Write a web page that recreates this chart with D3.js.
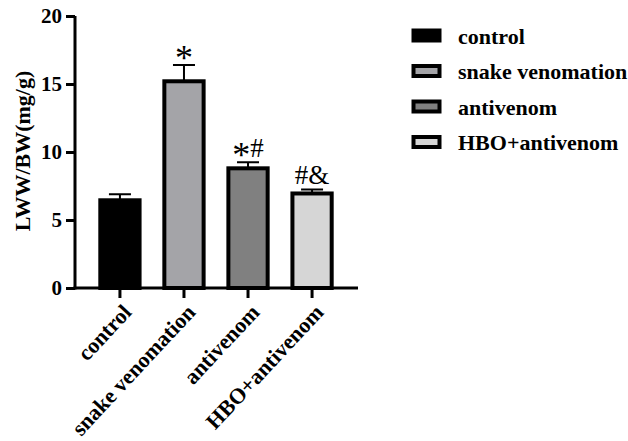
<!DOCTYPE html>
<html>
<head>
<meta charset="utf-8">
<script src="https://cdn.jsdelivr.net/npm/d3@7"></script>
<style>
  body { margin: 0; background: #fff; }
  text { font-family: "Liberation Serif", "Times New Roman", serif; font-weight: bold; }
</style>
</head>
<body>
<svg id="chart" width="628" height="441"></svg>
<script>
// data
let groups = ["control", "snake venomation", "antivenom", "HBO+antivenom"];
let means = [6.45, 15.2, 8.8, 6.95];
let errs = [0.45, 1.2, 0.45, 0.3];
let stars = ["", "*", "*", ""];
let signs = ["", "", "#", "#&"];
let fills = ["#000000", "#a4a4a8", "#808080", "#d6d6d6"];
let yTicks = [0, 5, 10, 15, 20];

let margin_x = 75, top_y = 16, bottom_y = 288;

let svg = d3.select("#chart");

let x = d3.scaleBand()
    .domain(groups)
    .range([86, 346])
    .paddingInner(0.34)
    .paddingOuter(0.2);
let y = d3.scaleLinear().domain([0, 20]).range([bottom_y, top_y]);

// y axis
let gy = svg.append("g")
    .attr("transform", "translate(" + margin_x + ",0)")
    .call(d3.axisLeft(y).tickValues(yTicks).tickSize(9).tickPadding(4));
gy.select(".domain").attr("stroke-width", 3).attr("d", "M0," + (bottom_y + 1.5) + "V" + top_y);
gy.selectAll(".tick line").attr("stroke-width", 3);
gy.selectAll(".tick text").style("font-size", "21px").attr("fill", "#000");

// x axis
let gx = svg.append("g")
    .attr("transform", "translate(0," + bottom_y + ")")
    .call(d3.axisBottom(x).tickSize(10).tickSizeOuter(0));
gx.select(".domain").attr("stroke-width", 3).attr("d", "M" + (margin_x - 1.5) + ",0H358");
gx.selectAll(".tick line").attr("stroke-width", 3).attr("y1", 1);
gx.selectAll(".tick text")
    .style("font-size", "22px")
    .attr("fill", "#000")
    .attr("text-anchor", "end")
    .attr("dy", "0.35em")
    .attr("transform", "translate(7,20) rotate(-47)")
    .attr("x", 0).attr("y", 0);

// bars
let bw = x.bandwidth();
svg.selectAll(".bar").data(groups).join("rect")
    .attr("class", "bar")
    .attr("x", d => x(d) + 1.5)
    .attr("y", (d, i) => y(means[i]))
    .attr("width", bw - 3)
    .attr("height", (d, i) => y(0) - y(means[i]))
    .attr("fill", (d, i) => fills[i])
    .attr("stroke", "#000")
    .attr("stroke-width", 4);

// error bars (upper only)
svg.selectAll(".err").data(groups).join("path")
    .attr("class", "err")
    .attr("d", (d, i) => {
        let cx = x(d) + bw / 2;
        let yt = y(means[i] + errs[i]);
        return "M" + cx + "," + y(means[i]) + "V" + yt + "M" + (cx - 11) + "," + yt + "H" + (cx + 11);
    })
    .attr("stroke", "#000")
    .attr("stroke-width", 2)
    .attr("fill", "none");

// significance marks
let mk = svg.selectAll(".mark").data(groups).join("text")
    .attr("class", "mark")
    .attr("x", d => x(d) + bw / 2)
    .attr("y", (d, i) => y(means[i] + errs[i]) - 5)
    .attr("text-anchor", "middle")
    .style("font-weight", "normal");
mk.append("tspan")
    .style("font-size", "36px")
    .attr("dy", "0.28em")
    .text((d, i) => stars[i]);
mk.append("tspan")
    .style("font-size", "27px")
    .attr("dy", (d, i) => stars[i] ? "-0.37em" : "0")
    .text((d, i) => signs[i]);

// y label
svg.append("text")
    .attr("transform", "rotate(-90)")
    .attr("x", -151)
    .attr("y", 30)
    .attr("text-anchor", "middle")
    .style("font-size", "22px")
    .text("LWW/BW(mg/g)");

// legend
let lg = svg.append("g").attr("transform", "translate(412,29)");
let rows = lg.selectAll("g").data(groups).join("g")
    .attr("transform", (d, i) => "translate(0," + (i * 35.5) + ")");
rows.append("rect")
    .attr("x", 1.5).attr("y", 1.5)
    .attr("width", 26).attr("height", 10)
    .attr("fill", (d, i) => fills[i])
    .attr("stroke", "#000")
    .attr("stroke-width", 4);
rows.append("text")
    .attr("x", 46)
    .attr("y", 7)
    .attr("dy", "0.35em")
    .style("font-size", "22px")
    .text(d => d);
</script>
</body>
</html>
